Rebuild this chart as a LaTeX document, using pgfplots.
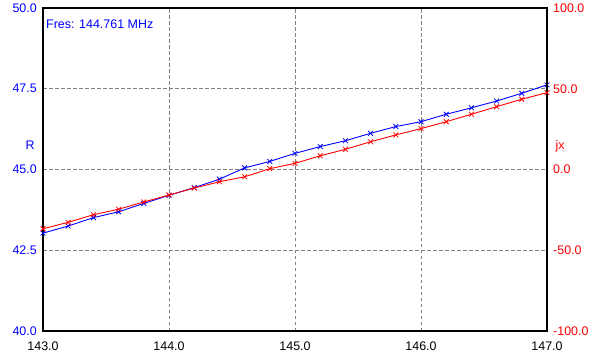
\documentclass[border=0pt]{standalone}
\usepackage{pgfplots}
\pgfplotsset{compat=1.18}
\usepackage{fontspec}
\setmainfont{Liberation Sans}
\definecolor{rblue}{RGB}{0,0,255}
\definecolor{xred}{RGB}{255,0,0}
\definecolor{gridgray}{RGB}{128,128,128}
\pgfplotstableread{
f R
143.0 43.03
143.2 43.25
143.4 43.51
143.6 43.69
143.8 43.95
144.0 44.20
144.2 44.44
144.4 44.70
144.6 45.05
144.8 45.25
145.0 45.50
145.2 45.71
145.4 45.89
145.6 46.12
145.8 46.33
146.0 46.48
146.2 46.71
146.4 46.91
146.6 47.12
146.8 47.36
147.0 47.62
}\Rdata
\pgfplotstableread{
f X
143.0 -36.7
143.2 -32.7
143.4 -28.0
143.6 -24.6
143.8 -20.1
144.0 -15.8
144.2 -11.5
144.4 -7.6
144.6 -4.5
144.8 0.5
145.0 3.8
145.2 8.5
145.4 12.5
145.6 17.2
145.8 21.4
146.0 25.3
146.2 29.6
146.4 34.2
146.6 38.9
146.8 43.5
147.0 47.6
}\Xdata
\begin{document}
\fontsize{12.5}{14}\selectfont
\begin{tikzpicture}
\pgfplotsset{
  common/.style={
    scale only axis, width=504bp, height=323bp,
    xmin=143, xmax=147,
    major tick length=0pt,
    tick label style={font=\fontsize{12.5}{14}\selectfont},
    /pgf/number format/assume math mode=true,
    /pgf/number format/fixed, /pgf/number format/fixed zerofill,
    /pgf/number format/precision=1,
    axis line style={line width=1.2bp, black},
  }
}
\begin{axis}[common, name=ax,
  ymin=40, ymax=50,
  xtick={143,144,145,146,147},
  ytick={40,42.5,45,47.5,50},
  grid=major,
  major grid style={gridgray, line width=0.7bp, dash pattern=on 3.5bp off 2.5bp},
  yticklabel style={rblue, inner sep=0pt, xshift=-6bp},
  xticklabel style={black, inner sep=0pt, yshift=-11bp},
  clip=false,
]
\addplot[rblue, line width=0.9bp, mark=x, mark size=3.4bp, mark options={line width=0.8bp}] table[x=f, y=R] {\Rdata};
\node[rblue, anchor=center] at ([xshift=-13bp]rel axis cs:0,0.576) {R};
\node[rblue, anchor=west, inner sep=0pt] at ([xshift=3bp, yshift=-16.5bp]rel axis cs:0,1) {Fres: 144.761 MHz};
\end{axis}
\begin{axis}[common,
  ymin=-100, ymax=100,
  axis x line=none, axis y line*=right,
  ytick={-100,-50,0,50,100},
  yticklabel style={xred, inner sep=0pt, xshift=6bp},
  clip=false,
]
\addplot[xred, line width=0.9bp, mark=x, mark size=3.4bp, mark options={line width=0.8bp}] table[x=f, y=X] {\Xdata};
\node[xred, anchor=center] at ([xshift=13bp]rel axis cs:1,0.573) {jx};
\end{axis}
\pgfresetboundingbox
\useasboundingbox ([shift={(-43bp,-31bp)}]ax.south west) rectangle ([shift={(51bp,8bp)}]ax.north east);
\end{tikzpicture}
\end{document}
